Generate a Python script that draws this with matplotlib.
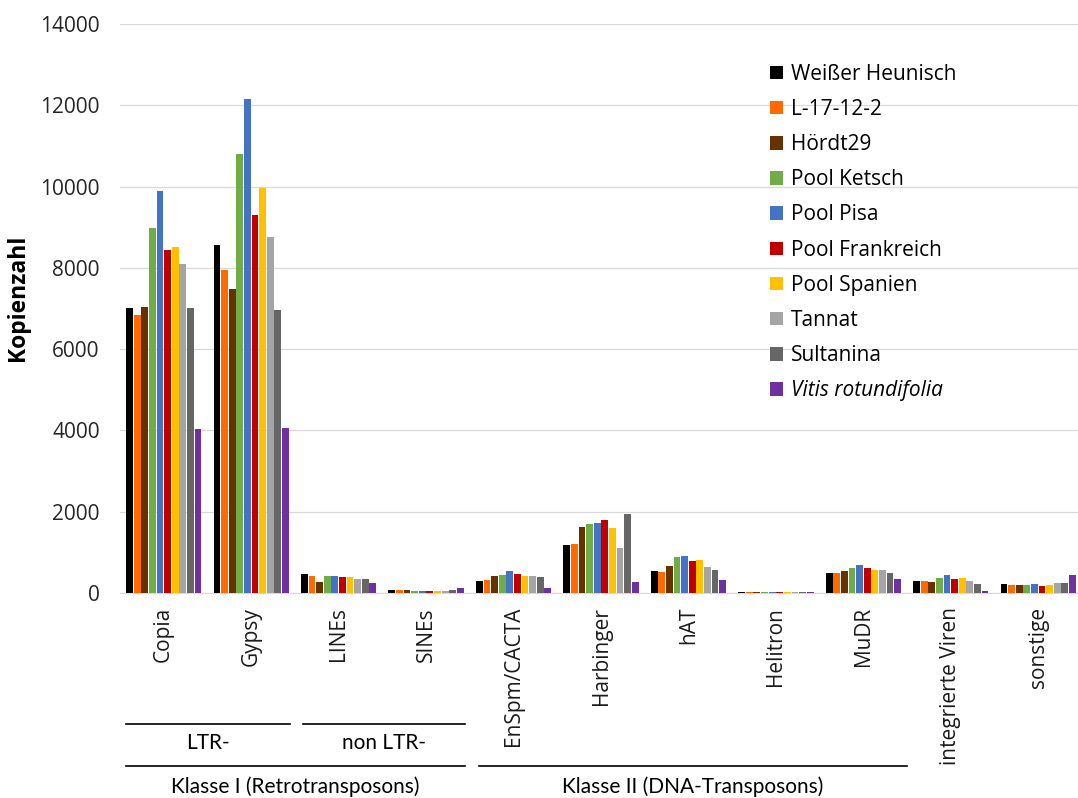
import numpy as np
import matplotlib
matplotlib.use("Agg")
from matplotlib import pyplot as plt

plt.rcParams['font.family'] = ['Open Sans', 'DejaVu Sans']

# Kategorien (x-Achse)
kategorien = ['Copia', 'Gypsy', 'LINEs', 'SINEs', 'EnSpm/CACTA', 'Harbinger',
              'hAT', 'Helitron', 'MuDR', 'integrierte Viren', 'sonstige']

# Sorten / Serien
sorten = ['Weißer Heunisch', 'L-17-12-2', 'Hördt29', 'Pool Ketsch', 'Pool Pisa',
          'Pool Frankreich', 'Pool Spanien', 'Tannat', 'Sultanina', 'Vitis rotundifolia']
farben = ['#000000', '#ff6a00', '#663300', '#70ad47', '#4472c4',
          '#c00000', '#ffc000', '#a5a5a5', '#666666', '#7030a0']

# Kopienzahlen je Sorte (Reihenfolge wie kategorien)
weisser_heunisch = [7000, 8560, 456, 79, 296, 1182, 542, 20, 484, 287, 214]
l_17_12_2 = [6835, 7936, 414, 72, 320, 1199, 525, 18, 484, 296, 189]
hoerdt29 = [7025, 7468, 259, 65, 419, 1626, 665, 20, 550, 279, 189]
pool_ketsch = [8978, 10793, 424, 50, 451, 1707, 879, 18, 624, 370, 189]
pool_pisa = [9882, 12148, 424, 50, 550, 1724, 919, 20, 690, 435, 222]
pool_frankreich = [8436, 9298, 382, 58, 460, 1790, 796, 18, 624, 346, 181]
pool_spanien = [8502, 9970, 399, 42, 427, 1609, 800, 20, 567, 362, 189]
tannat = [8084, 8764, 350, 50, 427, 1116, 649, 18, 558, 292, 246]
sultanina = [7015, 6958, 340, 72, 394, 1946, 575, 20, 501, 230, 246]
vitis_rotundifolia = [4027, 4059, 251, 111, 131, 279, 312, 18, 345, 57, 435]

werte = [weisser_heunisch, l_17_12_2, hoerdt29, pool_ketsch, pool_pisa,
         pool_frankreich, pool_spanien, tannat, sultanina, vitis_rotundifolia]

fig = plt.figure(figsize=(10.78, 7.98), dpi=100)
ax = fig.add_axes([120 / 1078, (798 - 593) / 798, 962 / 1078, 569 / 798])

x = np.arange(len(kategorien))
schritt = 0.087
breite = 0.078
for j, (name, farbe, serie) in enumerate(zip(sorten, farben, werte)):
    ax.bar(x + (j - 4.5) * schritt, serie, width=breite, color=farbe, label=name, zorder=3)

ax.set_xlim(-0.5, 10.5)
ax.set_ylim(0, 14000)
ax.set_yticks(range(0, 14001, 2000))
ax.grid(axis='y', color='#d9d9d9', linewidth=0.9, zorder=0)
for s in ['top', 'right', 'left']:
    ax.spines[s].set_visible(False)
ax.spines['bottom'].set_color('#d9d9d9')
ax.tick_params(axis='y', length=0, pad=14.5, labelsize=15, labelcolor='#262626')
ax.tick_params(axis='x', length=0, pad=10)
ax.set_xticks(x)
ax.set_xticklabels(kategorien, rotation=90, fontsize=15, va='top', color='#1a1a1a')
fig.text(18 / 1078, 1 - 297.5 / 798, 'Kopienzahl', rotation=90, ha='center', va='center',
         fontsize=16.5, fontweight='bold')

# Legende
handles, labels = ax.get_legend_handles_labels()
leg = ax.legend(handles, labels, loc='upper left', bbox_to_anchor=(0.676, 0.930),
                frameon=False, fontsize=15, handlelength=0.62, handleheight=0.62,
                handletextpad=0.35, labelspacing=0.68, borderpad=0, borderaxespad=0)
leg.get_texts()[-1].set_style('italic')

# Gruppierungen unter der Achse
gruppen_font = ['Lato', 'DejaVu Sans']
tr = ax.get_xaxis_transform()
linien = [(-0.435, 1.44, -0.230), (1.59, 3.44, -0.230),
          (-0.435, 3.44, -0.304), (3.60, 8.50, -0.304)]
for x0, x1, yy in linien:
    ax.plot([x0, x1], [yy, yy], color='black', linewidth=1.2, transform=tr, clip_on=False)
ax.text(0.50, -0.264, 'LTR-', transform=tr, ha='center', va='center', fontsize=15, family=gruppen_font)
ax.text(2.52, -0.264, 'non LTR-', transform=tr, ha='center', va='center', fontsize=15, family=gruppen_font)
ax.text(1.50, -0.341, 'Klasse I (Retrotransposons)', transform=tr, ha='center', va='center',
        fontsize=15, family=gruppen_font)
ax.text(6.05, -0.341, 'Klasse II (DNA-Transposons)', transform=tr, ha='center', va='center',
        fontsize=15, family=gruppen_font)

plt.savefig('out.png', dpi=100)
